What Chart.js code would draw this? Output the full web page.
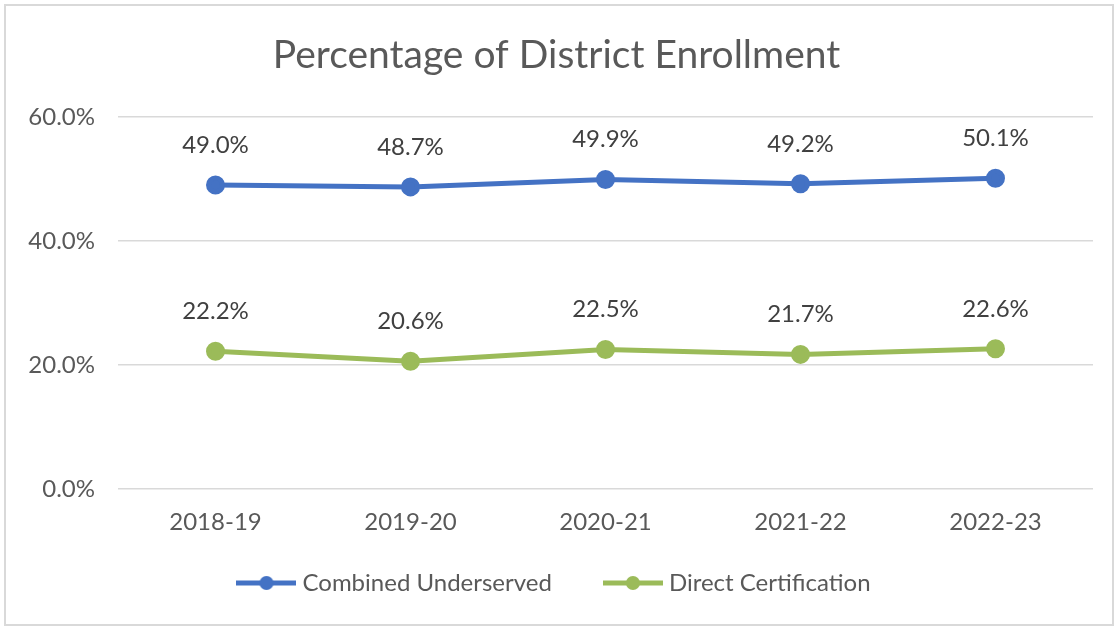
<!DOCTYPE html>
<html>
<head>
<meta charset="utf-8">
<script src="https://cdn.jsdelivr.net/npm/chart.js@4"></script>
<style>
  html, body { margin: 0; padding: 0; background: #ffffff; }
  #wrap { position: relative; width: 1115px; height: 627px; }
  #frame { position: absolute; left: 4px; top: 4px; width: 1106px; height: 618px; border: 2px solid #d9d9d9; pointer-events: none; }
  canvas { position: absolute; left: 0; top: 0; }
</style>
</head>
<body>
<div id="wrap">
  <canvas id="chart" width="1115" height="627"></canvas>
  <div id="frame"></div>
</div>
<script>
// Datos del gráfico
const years = ['2018-19', '2019-20', '2020-21', '2021-22', '2022-23'];
const combinedUnderserved = [49.0, 48.7, 49.9, 49.2, 50.1];
const directCertification = [22.2, 20.6, 22.5, 21.7, 22.6];
const yTicks = [0, 20, 40, 60];

const blue = '#4472c4';
const green = '#9bbb59';
const fontFamily = "Lato, 'Open Sans', sans-serif";

// Marcador de leyenda: línea con círculo
function legendMarker(color) {
    const c = document.createElement('canvas');
    c.width = 60;
    c.height = 16;
    const ctx = c.getContext('2d');
    ctx.strokeStyle = color;
    ctx.lineWidth = 5;
    ctx.beginPath();
    ctx.moveTo(0, 8);
    ctx.lineTo(60, 8);
    ctx.stroke();
    ctx.fillStyle = color;
    ctx.beginPath();
    ctx.arc(30, 8, 7, 0, Math.PI * 2);
    ctx.fill();
    return c;
}

// Etiquetas de datos encima de cada punto
const dataLabels = {
    id: 'dataLabels',
    afterDatasetsDraw(chart) {
        const ctx = chart.ctx;
        ctx.save();
        ctx.font = '24px ' + fontFamily;
        ctx.fillStyle = '#404040';
        ctx.textAlign = 'center';
        ctx.textBaseline = 'middle';
        chart.data.datasets.forEach((ds, i) => {
            const meta = chart.getDatasetMeta(i);
            meta.data.forEach((pt, j) => {
                ctx.fillText(ds.data[j].toFixed(1) + '%', pt.x, pt.y - 40);
            });
        });
        ctx.restore();
    }
};

new Chart(document.getElementById('chart'), {
    type: 'line',
    data: {
        labels: years,
        datasets: [
            { label: 'Combined Underserved', data: combinedUnderserved, borderColor: blue, backgroundColor: blue, borderWidth: 5, pointRadius: 7, pointHoverRadius: 7, pointStyle: 'circle', tension: 0 },
            { label: 'Direct Certification', data: directCertification, borderColor: green, backgroundColor: green, borderWidth: 5, pointRadius: 7, pointHoverRadius: 7, pointStyle: 'circle', tension: 0 }
        ]
    },
    options: {
        responsive: false,
        animation: false,
        layout: { padding: { left: 20, right: 22, top: 10, bottom: 22 } },
        plugins: {
            title: {
                display: true,
                text: 'Percentage of District Enrollment',
                color: '#595959',
                font: { family: fontFamily, size: 39, weight: 'normal' },
                padding: { top: 22, bottom: 38 }
            },
            legend: {
                position: 'bottom',
                labels: {
                    color: '#595959',
                    font: { family: fontFamily, size: 24 },
                    usePointStyle: true,
                    pointStyleWidth: 48,
                    padding: 57,
                    generateLabels(chart) {
                        return chart.data.datasets.map((ds, i) => ({
                            text: ds.label,
                            fontColor: '#595959',
                            pointStyle: legendMarker(ds.borderColor),
                            datasetIndex: i,
                            lineWidth: 0,
                            hidden: false
                        }));
                    }
                }
            },
            tooltip: { enabled: false }
        },
        scales: {
            x: {
                offset: true,
                afterFit(scale) { scale.height = 25; },
                grid: { display: false, drawTicks: false },
                border: { display: false },
                // mirror evita el recorte de las etiquetas; el padding negativo las baja
                ticks: { color: '#595959', font: { family: fontFamily, size: 24, lineHeight: 1 }, mirror: true, padding: -45 }
            },
            y: {
                min: 0,
                max: 60,
                afterFit(scale) { scale.width = 98; },
                afterBuildTicks(scale) { scale.ticks = yTicks.map(v => ({ value: v })); },
                grid: { color: '#d9d9d9', lineWidth: 1.5, drawTicks: false },
                border: { display: false },
                ticks: {
                    color: '#595959',
                    font: { family: fontFamily, size: 24 },
                    padding: 23,
                    callback: v => v.toFixed(1) + '%'
                }
            }
        }
    },
    plugins: [dataLabels]
});
</script>
</body>
</html>
